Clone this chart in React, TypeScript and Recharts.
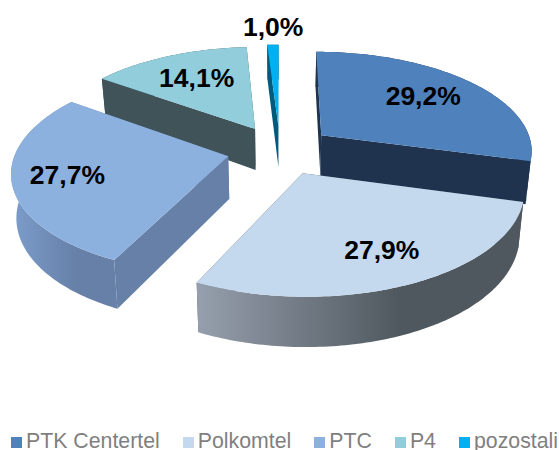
import { Legend, Pie, PieChart } from "recharts";

const names = ["PTK Centertel", "Polkomtel", "PTC", "P4", "pozostali"];
const shares = [29.2, 27.9, 27.7, 14.1, 1.0];

const topColors = ["#4F81BD", "#C4D8EE", "#8DB1DF", "#92CDDC", "#00B0F0"];
const faceColors = ["#1F334F", "#50585F", "#6680A8", "#3F5359", "#005A7E"];
const rimColors = [
	["#1F334F", "#1F334F"],
	["#969FAD", "#50585F"],
	["#7C9DCB", "#6680A8"],
	["#3F5359", "#3F5359"],
	["#005A7E", "#005A7E"],
];
// where each label sits on the pie's plane: distance from centre (1 = rim)
// and degrees away from the slice's middle
const labelReach = [0.942, 0.98, 0.999, 0.923, 1.5];
const labelTurn = [1.65, 0.9, 0, -0.7, -0.3];

// painted back to front, so the pie starts at P4 instead of 12 o'clock
const drawOrder = [3, 4, 0, 1, 2];
const total = shares.reduce((a, b) => a + b, 0);
const before = shares[0] + shares[1] + shares[2];
const startAngle = 90 - (before / total) * 360;

const tableData = drawOrder.map((i) => ({
	name: names[i],
	value: shares[i],
	fill: topColors[i],
	idx: i,
}));

const CX = 280;
const CY = 150;
const RADIUS = 212;
const SQUASH = 0.467;
const PERSPECTIVE = 0.14;
const EXPLODE = 0.25;
const DEPTH = 42.5;

const project = (u: number, v: number, z: number) => {
	const w = 1 - PERSPECTIVE * v;
	const x = (u * RADIUS) / w;
	const y = (v * RADIUS * SQUASH) / w + z * DEPTH * (1 + 0.15 * v);
	return [CX + x * (1 - 0.02 * z), CY + y];
};

const rad = (a: number) => ((90 - a) * Math.PI) / 180;

function SliceShape(props: any) {
	const { startAngle: a0, endAngle: a1, payload } = props;
	const idx = payload.idx;
	const mid = rad((a0 + a1) / 2);
	const ox = EXPLODE * Math.sin(mid);
	const oy = -EXPLODE * Math.cos(mid);
	const at = (angle: number, z: number, r = 1) =>
		project(
			ox + r * Math.sin(rad(angle)),
			oy - r * Math.cos(rad(angle)),
			z,
		);
	const steps = Math.max(4, Math.ceil(Math.abs(a1 - a0)));
	const arc: number[] = [];
	for (let s = 0; s <= steps; s++) arc.push(a0 + ((a1 - a0) * s) / steps);
	const path = (pts: number[][]) =>
		"M" + pts.map((p) => p[0].toFixed(2) + "," + p[1].toFixed(2)).join("L") + "Z";

	const topPts = [at(a0, 0, 0), ...arc.map((a) => at(a, 0))];
	const rimPts = [
		...arc.map((a) => at(a, 0)),
		...arc.slice().reverse().map((a) => at(a, 1)),
	];
	const face = (a: number) =>
		path([at(a, 0, 0), at(a, 0), at(a, 1), at(a, 1, 0)]);
	const xs = rimPts.map((p) => p[0]);
	const gradId = "rim" + idx;

	return (
		<g>
			<defs>
				<linearGradient
					id={gradId}
					gradientUnits="userSpaceOnUse"
					x1={Math.min(...xs)}
					x2={Math.max(...xs)}
					y1={0}
					y2={0}
				>
					<stop offset="0" stopColor={rimColors[idx][0]} />
					<stop offset="0.62" stopColor={rimColors[idx][1]} />
					<stop offset="1" stopColor={rimColors[idx][1]} />
				</linearGradient>
			</defs>
			<path d={face(a0)} fill={faceColors[idx]} />
			<path d={face(a1)} fill={faceColors[idx]} />
			<path d={path(rimPts)} fill={`url(#${gradId})`} />
			<path d={path(topPts)} fill={topColors[idx]} />
		</g>
	);
}

function SliceLabel(props: any) {
	const { midAngle, payload } = props;
	const idx = payload.idx;
	const mid = rad(midAngle + labelTurn[idx]);
	const r = labelReach[idx];
	const [x, y] = project(r * Math.sin(mid), -r * Math.cos(mid), 0);
	return (
		<text
			x={x}
			y={y}
			textAnchor="middle"
			dominantBaseline="central"
			fontFamily="'Liberation Sans', Arial, sans-serif"
			fontWeight="bold"
			fontSize={26.5}
			fill="#000"
		>
			{shares[idx].toFixed(1).replace(".", ",")}%
		</text>
	);
}

export default function App() {
	return (
		<div style={{ position: "absolute", left: 0, top: 0, width: 559, height: 450 }}>
			<PieChart width={559} height={450} margin={{ top: 0, right: 0, bottom: 0, left: 0 }}>
				<Pie
					data={tableData}
					dataKey="value"
					nameKey="name"
					cx={CX}
					cy={CY}
					outerRadius={RADIUS}
					startAngle={startAngle}
					endAngle={startAngle - 360}
					stroke="none"
					shape={SliceShape}
					label={SliceLabel}
					labelLine={false}
					isAnimationActive={false}
				/>
				<Legend
					layout="horizontal"
					align="left"
					verticalAlign="bottom"
					iconType="square"
					iconSize={11}
					itemSorter={(item: any) => names.indexOf(item.value)}
					wrapperStyle={{
						left: 11,
						top: 433,
						width: 548,
						lineHeight: "16px",
						whiteSpace: "nowrap",
						textAlign: "left",
						fontFamily: "'Liberation Sans', Arial, sans-serif",
						fontSize: 21.3,
					}}
					formatter={(value: string) => (
						<span style={{ color: "#7F7F7F", marginRight: 13 }}>{value}</span>
					)}
				/>
			</PieChart>
		</div>
	);
}
